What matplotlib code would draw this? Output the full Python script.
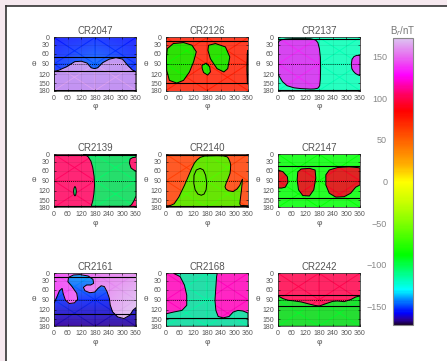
import numpy as np
import matplotlib
matplotlib.use("Agg")
import matplotlib.pyplot as plt
from matplotlib.colors import LinearSegmentedColormap, Normalize
from matplotlib.patches import PathPatch, Rectangle
from matplotlib.lines import Line2D
from matplotlib.path import Path
from matplotlib.cm import ScalarMappable

# Carrington rotations shown, left-to-right, top-to-bottom
rotations = ["CR2047", "CR2126", "CR2137", "CR2139", "CR2140",
             "CR2147", "CR2161", "CR2168", "CR2242"]

# B_r (nT) outside / inside the outlined regions.
# scalar = flat, 3x3 = rows theta 0/90/180, cols phi 0/180/360
background = [
    [[-156, -154, -156], [-152, -146, -152], [-156, -156, -156]],
    75, -118, 104, 62, -88,
    [[140, 150, 158], [136, 155, 168], [140, 162, 172]],
    118, 100,
]
foreground = [
    165, -85, 135, -105, -65, 92,
    [[-138, -136, -140], [-150, -152, -155], [-166, -166, -166]],
    -115, -95,
]

# solid horizontal lines (theta, deg)
sheet_lines = [[70, 111.4], [16.7, 148.2], [8.8, 175.3], [3.1, 175.3],
               [4.7, 172.7], [44, 142.3], [14.8, 133.5], [145.8],
               [76.6, 106.7]]

# outlined regions as (phi list, theta list)
cr2047_regions = [
    ([0, 19, 55, 91, 120, 145, 163, 178, 192, 214, 243, 272, 301, 322, 344, 360, 360, 0],
     [111.4, 108.7, 98.1, 83.2, 81.9, 87.3, 100.8, 103.4, 100.8, 85.9, 75.9,
      71.3, 75.9, 92.7, 107.4, 112.7, 180, 180]),
]
cr2126_regions = [
    ([6, 32, 77, 114, 133, 121, 103, 77, 47, 15, 3, 2],
     [43.4, 25.6, 21.7, 31.8, 53.6, 83.7, 113.3, 139.8, 149.4, 139.8, 108.7, 70]),
    ([187, 217, 261, 280, 271, 254, 224, 195, 184],
     [31.8, 25.6, 37.7, 69.4, 103.4, 113.3, 103.4, 74.6, 48.6]),
    ([158, 177, 192, 195, 183, 165, 159],
     [94, 87.3, 98.8, 113.3, 122.9, 115, 103.4]),
    ([360, 360, 357, 355, 357], [47.8, 153.9, 148.2, 103.4, 56.8]),
]
cr2137_regions = [
    ([0, 5, 15, 34, 70, 110, 143, 165, 175, 182, 186, 187, 186, 183, 175, 160,
      143, 100, 70, 40, 20, 8, 0],
     [23.9, 15.8, 10.5, 7.3, 5.3, 5.3, 5.9, 11.3, 21.7, 44, 70, 103.4, 136,
      159.3, 169.5, 172.7, 173.4, 171.2, 167.8, 159.3, 144.6, 129.7, 119.3]),
    ([360, 345, 333, 325, 322, 324, 331, 340, 350, 360],
     [64.7, 64.7, 68.6, 76.6, 90, 103.4, 111.4, 117.9, 121.9, 124.5]),
]
cr2139_regions = [
    ([128, 138, 150, 162, 170, 176, 178, 175, 170, 165, 165, 330, 340, 350,
      360, 360, 350, 338, 331, 334, 345, 360, 360],
     [0, 1.9, 11.3, 28.4, 50.3, 76.6, 103.4, 129.7, 153.9, 168.7, 175.3,
      175.3, 168.7, 153.9, 136, 60.7, 58.1, 51.6, 35.4, 20.7, 14.8, 13.1, 0]),
    ([92, 96, 98, 96, 92, 88, 86, 88],
     [106.1, 111.4, 120.6, 130.9, 136, 130.9, 120.6, 111.4]),
]
cr2140_regions = [
    ([0, 12, 21, 36, 56, 81, 100, 113, 125, 136, 150, 169, 193, 223, 251, 268,
      274, 281, 284, 283, 281, 273, 266, 259, 263, 274, 295, 312, 324, 330,
      336, 331, 326, 324, 327, 360, 360, 0],
     [172.7, 172.7, 171.2, 164.2, 139.8, 103.4, 73.9, 52.9, 35.4, 23.9, 14,
      8, 7.3, 6.6, 7.3, 11.3, 17.6, 31.8, 41.5, 56.8, 68.6, 83.2, 92.7,
      107.4, 114, 119.3, 121.9, 114, 103.4, 92.7, 84.6, 119.3, 148.2, 164.2,
      171.2, 172.7, 180, 180]),
    ([150, 164, 174, 179, 176, 167, 155, 140, 128, 122, 123, 133],
     [52.9, 58.1, 73.9, 96.8, 116.6, 129.7, 133.5, 129.7, 116.6, 96.8, 73.9, 58.1]),
]
cr2147_regions = [
    ([0, 22, 41, 44, 32, 15, 0], [58.1, 63.4, 77.9, 94.1, 108.7, 111.4, 110.8]),
    ([102, 138, 163, 166, 157, 138, 109, 90, 84, 87],
     [54.8, 52.9, 58.1, 81.9, 116.6, 136, 134.7, 116.6, 87.3, 63.4]),
    ([225, 261, 312, 348, 360, 360, 341, 319, 290, 254, 225, 210, 210],
     [58.1, 50.3, 47.8, 50.3, 51.6, 102.1, 108.7, 127.1, 138.5, 139.8, 127.1,
      102.1, 72.6]),
]
cr2161_regions = [
    ([0, 10, 24, 36, 40, 50, 67, 90, 104, 100, 79, 61, 64, 86, 114, 150, 171,
      174, 161, 143, 129, 136, 157, 179, 193, 207, 221, 233, 243, 247, 257,
      279, 307, 333, 347, 360, 360, 0],
     [100.8, 85.9, 63.4, 56.1, 71.3, 90.9, 100.8, 98.8, 88.6, 71.3, 50.3,
      34.1, 17.6, 7.6, 6.1, 12.2, 25.6, 39.9, 45.3, 45.3, 52.9, 63.4, 69.3,
      67.3, 56.1, 47.8, 50.3, 66.4, 85.9, 105.4, 125.8, 142.3, 148.2, 136.6,
      120.6, 112.7, 180, 180]),
]
cr2168_regions = [
    ([33, 62, 81, 91, 91, 70, 33, 0, 0, 360, 360, 338, 316, 295, 277, 251,
      229, 219, 215, 219, 222, 225],
     [0, 14.8, 45.3, 76.6, 106.1, 121.4, 126.5, 132.2, 180, 180, 129.7,
      123.2, 121.4, 126.5, 141, 145.8, 141, 121.4, 91.4, 51.1, 14.8, 0]),
]
cr2242_regions = [
    ([0, 22, 44, 73, 102, 131, 160, 181, 210, 240, 261, 290, 319, 341, 360, 360, 0],
     [78.7, 86.6, 91.4, 93.4, 96.3, 101.3, 106.1, 108.2, 101.3, 94.6, 93.4,
      95.4, 89.5, 81.9, 78.7, 180, 180]),
]
regions = [cr2047_regions, cr2126_regions, cr2137_regions, cr2139_regions,
           cr2140_regions, cr2147_regions, cr2161_regions, cr2168_regions,
           cr2242_regions]

phi_ticks = [0, 60, 120, 180, 240, 300, 360]
theta_ticks = [0, 30, 60, 90, 120, 150, 180]
cbar_ticks = [-150, -100, -50, 0, 50, 100, 150]

# colour table of the B_r scale
cmap_values = [-172, -166, -158, -145, -130, -112, -88, -50, -25, 0, 20, 50,
               85, 105, 128, 150, 172]
cmap_colors = ["#180030", "#2800a0", "#0000ff", "#0070ff", "#00ffff",
               "#00ff90", "#00ff00", "#80ff00", "#c8ff00", "#ffff00",
               "#ffb000", "#ff6000", "#ff0000", "#ff0060", "#ff00ff",
               "#e868f0", "#dcc0f0"]

TEXT = "#555555"
plt.rcParams["font.family"] = ["Liberation Sans", "DejaVu Sans"]

# theta axis: mostly linear, squeezed a little towards the poles
_t = np.linspace(0, 180, 721)


def fwd(t):
    t = np.asarray(t, dtype=float)
    return 0.15 * (1 - np.cos(np.radians(t))) + 0.7 * t / 180


def inv(y):
    return np.interp(y, fwd(_t), _t)


def as_grid(v):
    return np.broadcast_to(np.asarray(v, dtype=float), (3, 3))


def main():
    vmin, vmax = cmap_values[0], cmap_values[-1]
    pos = [(v - vmin) / (vmax - vmin) for v in cmap_values]
    cmap = LinearSegmentedColormap.from_list("br", list(zip(pos, cmap_colors)))
    norm = Normalize(vmin, vmax)

    W, H = 447, 361
    fig = plt.figure(figsize=(W / 100, H / 100), dpi=100)
    fig.patch.set_facecolor("#f6e9ef")
    # white page with a dark edge on the left and top only
    fig.add_artist(Rectangle((5.5 / W, 0), 1, 1 - 5.5 / H,
                             transform=fig.transFigure, facecolor="white",
                             edgecolor="none", zorder=-5))
    fig.add_artist(Line2D([5.5 / W, 5.5 / W], [0, 1 - 5.5 / H],
                          transform=fig.transFigure, color="#333333", lw=1.2,
                          zorder=-4))
    fig.add_artist(Line2D([5.5 / W, 1], [1 - 5.5 / H, 1 - 5.5 / H],
                          transform=fig.transFigure, color="#333333", lw=1.2,
                          zorder=-4))

    col_x = [54, 166, 278]
    row_y = [37.5, 154.3, 273.3]
    aw, ah = 82, 53
    pg, tg = np.meshgrid([0, 180, 360], [0, 90, 180])

    for i, name in enumerate(rotations):
        x0 = col_x[i % 3]
        y0 = row_y[i // 3]
        ax = fig.add_axes([x0 / W, 1 - (y0 + ah) / H, aw / W, ah / H])
        ax.set_yscale("function", functions=(fwd, inv))

        ax.pcolormesh(pg, tg, as_grid(background[i]), cmap=cmap, norm=norm,
                      shading="gouraud", alpha=0.85, zorder=1)
        paths = []
        for ph, th in regions[i]:
            v = np.column_stack([list(ph) + [ph[0]], list(th) + [th[0]]])
            paths.append(Path(v, closed=True))
        patch = PathPatch(Path.make_compound_path(*paths), facecolor="none",
                          edgecolor="black", lw=0.7, zorder=3)
        ax.add_patch(patch)
        mesh = ax.pcolormesh(pg, tg, as_grid(foreground[i]), cmap=cmap,
                             norm=norm, shading="gouraud", alpha=0.85, zorder=2)
        mesh.set_clip_path(patch)

        for t in sheet_lines[i]:
            ax.axhline(t, color="black", lw=0.8, zorder=4)
        ax.axhline(90, color="black", lw=0.6, ls=(0, (1, 1.5)), zorder=4)

        ax.set_xlim(0, 360)
        ax.set_ylim(180, 0)
        ax.set_xticks(phi_ticks)
        ax.set_yticks(theta_ticks)
        ax.grid(True, color="black", alpha=0.12, lw=0.4)
        ax.set_axisbelow(False)
        ax.tick_params(direction="in", length=1.5, width=0.4, labelsize=5,
                       labelcolor=TEXT, pad=3, top=True, right=True)
        for s in ax.spines.values():
            s.set_color("#444444")
            s.set_linewidth(0.6)
        ax.set_title(name, fontsize=7, color=TEXT, pad=2.5)
        ax.set_xlabel("φ", fontsize=6, color=TEXT, labelpad=1)
        ax.set_ylabel("θ", fontsize=6, color=TEXT, rotation=0, labelpad=3,
                      va="center")

    cax = fig.add_axes([392.7 / W, 1 - 325 / H, 20.6 / W, 286.7 / H])
    cb = fig.colorbar(ScalarMappable(norm=norm, cmap=cmap), cax=cax,
                      ticks=cbar_ticks)
    cb.ax.yaxis.set_ticks_position("left")
    cb.ax.tick_params(length=0, labelsize=6.5, labelcolor="#888888", pad=4)
    cb.outline.set_edgecolor("#888888")
    cb.outline.set_linewidth(0.8)
    cb.ax.set_title("B$_r$/nT", fontsize=7, color="#777777", pad=3)

    fig.savefig("out.png", dpi=100, facecolor=fig.get_facecolor())


if __name__ == "__main__":
    main()
